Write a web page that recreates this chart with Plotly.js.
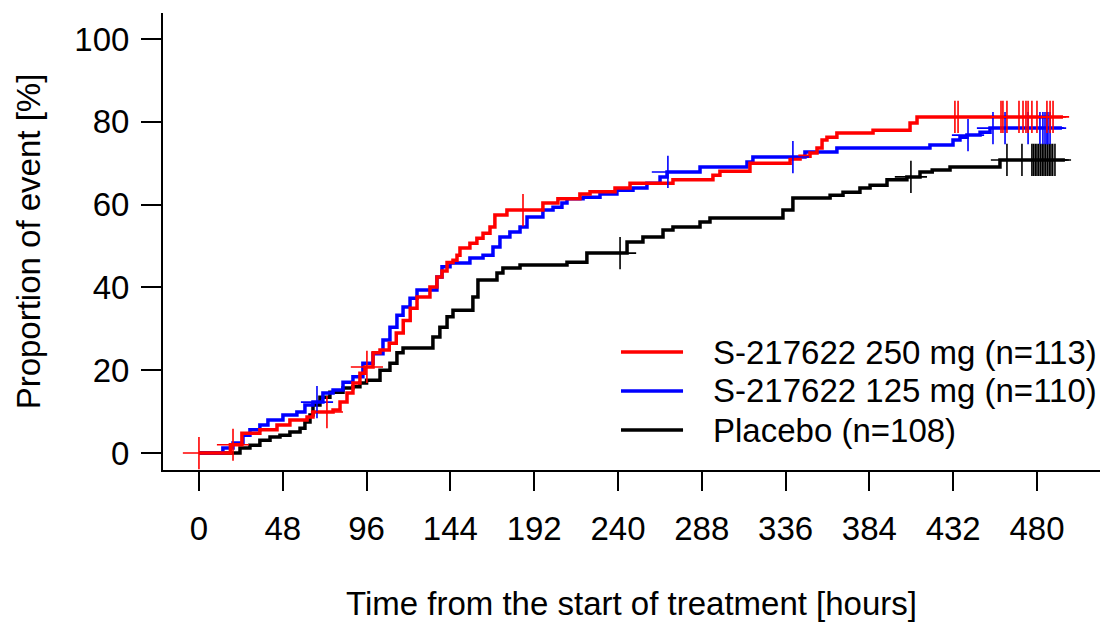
<!DOCTYPE html>
<html><head><meta charset="utf-8">
<script src="https://cdn.plot.ly/plotly-3.0.1.min.js"></script>
<style>html,body{margin:0;padding:0;background:#fff;}#chart{width:1112px;height:623px;}</style>
</head><body><div id="chart"></div>
<script>
// Legend labels
const seriesNames = ["S-217622 250 mg (n=113)", "S-217622 125 mg (n=110)", "Placebo (n=108)"];

// S-217622 250 mg: event times (hours) and cumulative proportion (%)
const redTimes = [0, 18, 24.6, 34.9, 44.7, 52.1, 61.9, 65.3, 76.8, 80.8, 84.8, 88.2, 92.2, 95.1, 99.7, 103.7, 109, 113, 117, 121, 124.9, 132.3, 136.3, 139.2, 142.1, 145.5, 147.8, 149.5, 155.2, 159.2, 162.7, 166.7, 169.5, 176.4, 197.0, 205.6, 218.2, 224.0, 238.3, 246.9, 271.5, 294.4, 298.4, 315.6, 338.6, 344.3, 350.0, 354.0, 356.9, 359.7, 365.4, 386.1, 407.3, 411.3];
const redPct   = [0, 2.0, 4.8, 5.6, 6.8, 8.0, 8.7, 9.9, 10.4, 12.3, 14.5, 16.9, 19.3, 20.8, 24.2, 24.9, 26.5, 29.0, 32.0, 35.0, 37.7, 40.1, 42.5, 44.0, 46.0, 46.6, 47.8, 49.5, 50.7, 51.9, 53.1, 54.6, 57.5, 58.7, 60.4, 61.4, 62.6, 63.1, 64.0, 65.2, 66.0, 67.1, 68.1, 70.0, 71.0, 71.7, 72.5, 73.7, 75.6, 76.3, 77.3, 78.0, 79.7, 81.2];
const redEnd = 494.9;
const redCensor = [0, 19.5, 73.3, 96.2, 185.6, 433.0, 434.8, 459.4, 460.5, 462.8, 469.7, 472.0, 473.7, 474.9, 477.1, 480.0, 485.7, 487.5, 489.2];

// S-217622 125 mg
const blueTimes = [0, 13.7, 19.5, 25.2, 29.2, 34.9, 39.5, 48.1, 56.1, 60.7, 65.3, 71.0, 76.8, 82.5, 88.2, 93.9, 99.7, 105.4, 109.4, 113.4, 116.9, 120.9, 124.9, 136.3, 139.2, 143.8, 155.2, 162.7, 168.4, 172.4, 178.1, 183.9, 187.9, 197.0, 202.8, 207.9, 210.8, 220.0, 229.7, 239.4, 248.6, 256.6, 264.1, 268.1, 287.0, 313.9, 317.3, 347.1, 365.4, 418.7, 431.9, 435.9, 439.9, 447.4, 453.1];
const bluePct   = [0, 1.2, 2.4, 4.3, 5.6, 6.8, 8.0, 9.2, 9.9, 11.6, 12.3, 14.5, 15.2, 17.1, 18.4, 21.7, 24.0, 27.3, 30.4, 33.3, 35.3, 37.4, 39.4, 42.5, 45.0, 45.9, 47.1, 47.8, 49.8, 52.2, 53.4, 54.6, 57.0, 58.7, 59.4, 60.4, 61.4, 61.8, 62.6, 63.5, 64.0, 65.2, 66.7, 67.9, 69.1, 70.3, 71.5, 72.7, 73.7, 74.4, 75.6, 76.3, 76.8, 77.5, 78.5];
const blueEnd = 494.3;
const blueCensor = [67.6, 268.6, 340.2, 440.5, 454.8, 461.7, 474.9, 481.7, 483.4, 484.6, 485.7, 486.3, 487.5];

// Placebo
const blackTimes = [0, 23.5, 29.2, 34.9, 40.7, 46.4, 52.1, 57.9, 60.7, 63.6, 65.3, 69.3, 75.0, 82.5, 88.2, 92.2, 96.0, 103.7, 109.4, 113.4, 116.9, 134.0, 138.0, 142.1, 145.5, 156.9, 159.8, 170.7, 174.1, 183.9, 210.8, 222.2, 245.2, 254.3, 265.8, 271.5, 287.0, 292.7, 334.5, 340.2, 361.5, 368.9, 378.6, 384.4, 394.1, 405.5, 413.0, 420.0, 430.2, 458.8];
const blackPct   = [0, 1.2, 1.9, 3.1, 3.9, 4.3, 5.1, 6.0, 7.5, 9.2, 11.6, 13.5, 14.7, 15.7, 16.0, 16.9, 17.6, 20.0, 21.7, 24.2, 25.4, 28.0, 30.4, 32.9, 34.5, 37.7, 41.8, 43.5, 44.7, 45.4, 46.1, 48.3, 51.0, 52.2, 53.9, 54.6, 55.8, 56.8, 58.7, 61.6, 62.3, 63.0, 64.0, 64.7, 66.0, 66.7, 67.9, 68.4, 69.1, 70.8];
const blackEnd = 496.0;
const blackCensor = [241.2, 407.8, 462.8, 471.4, 477.1, 478.0, 479.0, 480.0, 481.0, 482.0, 483.0, 484.0, 485.0, 486.0, 487.0, 488.0, 489.0, 490.3];

const xTicks = [0, 48, 96, 144, 192, 240, 288, 336, 384, 432, 480];
const yTicks = [0, 20, 40, 60, 80, 100];

const colors = ["#FF0000", "#0000FF", "#000000"];
const FONT = "Liberation Sans, Arial, Helvetica, sans-serif";
const FS = 33;

function stepValue(times, pcts, t) {
  let v = pcts[0];
  for (let i = 0; i < times.length; i++) { if (times[i] <= t) v = pcts[i]; }
  return v;
}
function curve(times, pcts, end, color) {
  return {
    x: times.concat([end]), y: pcts.concat([pcts[pcts.length - 1]]),
    mode: "lines", line: {shape: "hv", color: color, width: 3.5},
    hoverinfo: "skip", showlegend: false
  };
}
function censor(times, pcts, cens, color) {
  return {
    x: cens, y: cens.map(t => stepValue(times, pcts, t)),
    mode: "markers",
    marker: {symbol: "cross-thin-open", size: 23, color: color, line: {color: color, width: 1.6}},
    hoverinfo: "skip", showlegend: false
  };
}

const data = [
  curve(blackTimes, blackPct, blackEnd, colors[2]),
  curve(blueTimes, bluePct, blueEnd, colors[1]),
  curve(redTimes, redPct, redEnd, colors[0]),
  censor(blackTimes, blackPct, blackCensor, colors[2]),
  censor(blueTimes, bluePct, blueCensor, colors[1]),
  censor(redTimes, redPct, redCensor, colors[0])
];

// custom legend (long line keys like the reference)
const legY = [0.2582, 0.1729, 0.0875];
const shapes = [], annotations = [];
for (let i = 0; i < 3; i++) {
  shapes.push({type: "line", xref: "paper", yref: "paper", x0: 0.4888, x1: 0.555, y0: legY[i], y1: legY[i],
               line: {color: colors[i], width: 3.5}});
  annotations.push({xref: "paper", yref: "paper", x: 0.5848, y: legY[i], xanchor: "left", yanchor: "middle",
                    text: seriesNames[i], showarrow: false, font: {family: FONT, size: FS, color: "#000"}});
}

const layout = {
  width: 1112, height: 623,
  margin: {l: 163, r: 12, t: 13, b: 153},
  paper_bgcolor: "#fff", plot_bgcolor: "#fff",
  font: {family: FONT, size: FS, color: "#000"},
  showlegend: false,
  xaxis: {
    range: [-20.6, 516.1], tickvals: xTicks, ticktext: xTicks.map(String),
    showgrid: false, zeroline: false, showline: true, linecolor: "#000", linewidth: 2,
    ticks: "outside", ticklen: 19, tickwidth: 2, tickcolor: "#000",
    ticklabelstandoff: 9,
    tickfont: {family: FONT, size: FS, color: "#000"},
    title: {text: "Time from the start of treatment [hours]", standoff: 46, font: {family: FONT, size: FS, color: "#000"}},
    automargin: false, fixedrange: true
  },
  yaxis: {
    range: [-4.1, 106.3], tickvals: yTicks, ticktext: yTicks.map(String),
    showgrid: false, zeroline: false, showline: true, linecolor: "#000", linewidth: 2,
    ticks: "outside", ticklen: 20, tickwidth: 2, tickcolor: "#000",
    ticklabelstandoff: 5,
    tickfont: {family: FONT, size: FS, color: "#000"},
    title: {text: "Proportion of event [%]", standoff: 24, font: {family: FONT, size: FS, color: "#000"}},
    automargin: false, fixedrange: true
  },
  shapes: shapes, annotations: annotations
};

Plotly.newPlot("chart", data, layout, {displayModeBar: false, staticPlot: true});
</script>
</body></html>
